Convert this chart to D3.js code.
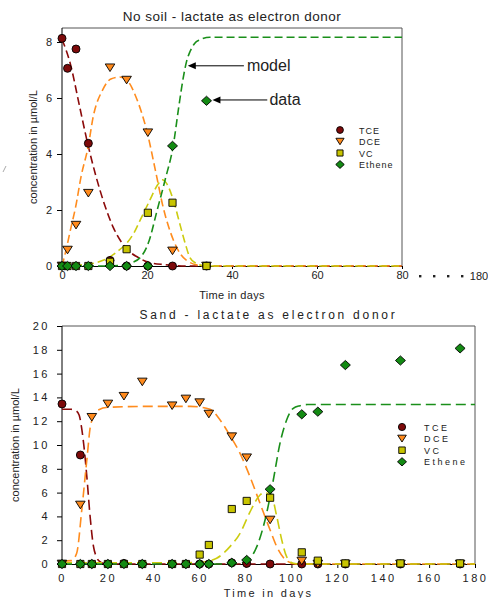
<!DOCTYPE html>
<html>
<head>
<meta charset="utf-8">
<script src="https://cdn.jsdelivr.net/npm/d3@7"></script>
<style>
  body { margin: 0; background: #fff; }
  text { font-family: "Liberation Sans", Arial, sans-serif; fill: #222; }
</style>
</head>
<body>
<script>
// ---- data: species ----
const species = ["TCE", "DCE", "VC", "Ethene"];

// ---- panel 1: no soil ----
const days1 = [0, 1.3, 3.3, 6.2, 11.3, 15.2, 20.2, 26, 34];
const tce1 = [8.13, 7.06, 7.75, 4.38, 0.2, 0, 0, 0, 0];
const dce1 = [0, 0.57, 1.46, 2.6, 7.08, 6.64, 4.76, 0.54, 0];
const vc1 = [0, 0, 0, 0, 0.15, 0.6, 1.9, 2.26, 0];
const eth1 = [0, 0, 0, 0, 0, 0, 0, 4.29, 5.9];

// model curves, [day, conc]
const tceModel1 = [[0, 8.1], [2, 7.2], [4, 5.8], [6, 4.4], [8, 3.2], [10, 2.2], [12, 1.4], [14, 0.85],
  [16, 0.5], [18, 0.3], [20, 0.15], [24, 0.05], [30, 0], [80, 0]];
const dceModel1 = [[0, 0], [1, 0.6], [2, 1.3], [3.2, 2.1], [4.5, 3.2], [6.2, 4.3], [7.3, 5.3], [9.6, 6.3],
  [11.5, 6.68], [13.6, 6.75], [15.5, 6.6], [17.5, 6.0], [20, 4.8], [22, 3.4], [23.8, 2.1], [26.2, 0.93],
  [28, 0.4], [29.3, 0.2], [32.5, 0.02], [35, 0], [80, 0]];
const vcModel1 = [[0, 0], [4, 0.03], [8, 0.12], [11, 0.3], [13, 0.52], [15.2, 0.81], [17, 1.2], [18.4, 1.64],
  [20.7, 2.36], [22.5, 2.9], [23.6, 3.08], [24.6, 2.95], [26.2, 2.35], [27.8, 1.46], [29, 0.8],
  [30.1, 0.3], [31.5, 0.1], [33, 0.02], [35, 0], [80, 0]];
const ethModel1 = [[0, 0], [10, 0], [14, 0.03], [16, 0.1], [18.4, 0.3], [20.5, 0.9], [22.3, 1.94],
  [24.3, 3.1], [26.2, 4.32], [27.4, 5.6], [28.5, 6.7], [29.3, 7.3], [30.1, 7.65], [31.2, 7.95],
  [32.5, 8.08], [34.8, 8.17], [80, 8.17]];

// ---- panel 2: sand ----
const days2 = [0, 8, 13, 20, 27, 35, 48, 54, 60, 64, 74, 80.5, 90.7, 104.5, 111.5, 123.5, 147.5, 173.5];
const tce2 = [13.45, 9.16, 0, 0, 0.05, 0, 0, 0, 0, 0, 0.1, 0.05, 0, 0, 0, 0, 0, 0];
const dce2 = [0, 4.96, 12.33, 13.45, 14.1, 15.3, 13.3, 13.87, 13.56, 12.6, 10.7, 8.93, 3.7, 0.25, 0, 0, 0, 0];
const vc2 = [0, 0, 0, 0, 0, 0, 0, 0, 0.79, 1.6, 4.62, 5.3, 5.57, 0.98, 0.28, 0.05, 0.05, 0.05];
const eth2 = [0, 0, 0, 0, 0, 0, 0, 0, 0, 0, 0.1, 0.34, 6.28, 12.58, 12.8, 16.72, 17.1, 18.12];

const tceModel2 = [[0, 13.0], [4, 13.0], [6, 12.9], [7.5, 12.5], [8.5, 11.5], [9.5, 10], [10.8, 7.4],
  [12.2, 4.1], [13.7, 1.5], [15, 0.6], [16.5, 0.2], [18.5, 0.03], [22, 0], [180, 0]];
const dceModel2 = [[0, 0.25], [4, 0.28], [6.4, 0.9], [8.6, 4.5], [10.8, 8.7], [12.6, 11.8], [15.8, 12.94],
  [20.2, 13.17], [40, 13.25], [56, 13.25], [64.5, 13.0], [68.9, 12.1], [73.2, 10.8], [77.6, 9.3], [82, 7.3],
  [86.3, 5.1], [90.7, 2.86], [94.3, 1.18], [97.9, 0.28], [102, 0], [180, 0]];
const vcModel2 = [[0, 0.1], [50, 0.1], [60, 0.15], [64, 0.25], [67.4, 0.48], [73.2, 1.46], [77.6, 2.58],
  [82, 4.4], [86.3, 5.8], [88.5, 6.0], [91.4, 5.67], [93.6, 4.0], [95.8, 2.0], [97.9, 0.62], [100.8, 0.06],
  [104, 0], [180, 0]];
const ethModel2 = [[0, 0], [70, 0], [77.6, 0.06], [81.2, 0.34], [84.9, 1.46], [88.5, 3.7], [92.1, 7.06],
  [95, 10.14], [97.9, 12.1], [100.8, 13.08], [103.7, 13.3], [107, 13.4], [180, 13.4]];

// ---- tick values ----
const xTicks1 = [0, 20, 40, 60, 80];
const yTicks1 = [0, 2, 4, 6, 8];
const xTicks2 = [0, 20, 40, 60, 80, 100, 120, 140, 160, 180];
const yTicks2 = [0, 2, 4, 6, 8, 10, 12, 14, 16, 18, 20];

// ---- styles ----
const fills = ["#7d0a0a", "#ff8a1c", "#c8c400", "#138a13"];
const lineColors = ["#8b0a0a", "#ff8c1e", "#cccc10", "#1a8f1a"];
const shapes = ["circle", "tri", "square", "diamond"];

const svg = d3.select("body").append("svg")
    .attr("width", 488).attr("height", 598);

function markerPath(shape, k) {
    if (shape === "circle") {
        const r = 4 * k;
        return `M${-r},0A${r},${r} 0 1,0 ${r},0A${r},${r} 0 1,0 ${-r},0Z`;
    }
    if (shape === "tri") {
        const w = 4.8 * k, h = 3.8 * k;
        return `M${-w},${-h}L${w},${-h}L0,${h}Z`;
    }
    if (shape === "square") {
        const a = 3.6 * k;
        return `M${-a},${-a}H${a}V${a}H${-a}Z`;
    }
    const w = 5 * k, h = 4.6 * k;
    return `M0,${-h}L${w},0L0,${h}L${-w},0Z`;
}

function drawPanel(p) {
    const g = svg.append("g");
    const x = d3.scaleLinear().domain(p.xDomain).range([62, p.right]);
    const y = d3.scaleLinear().domain(p.yDomain).range([p.bottom, p.top]);

    // frame (top / right)
    g.append("path")
        .attr("d", `M62,${p.top}H${p.right}V${p.bottom}`)
        .attr("fill", "none").attr("stroke", "#555").attr("stroke-width", 1);

    const xa = g.append("g").attr("transform", `translate(0,${p.bottom})`)
        .call(d3.axisBottom(x).tickValues(p.xTicks).tickSizeOuter(0)
            .tickSize(p.xTickSize).tickPadding(p.xPad));
    const ya = g.append("g").attr("transform", "translate(62,0)")
        .call(d3.axisLeft(y).tickValues(p.yTicks).tickSizeOuter(0)
            .tickSize(5).tickPadding(p.yPad));
    [xa, ya].forEach(a => {
        a.select(".domain").attr("stroke", "#000");
        a.selectAll(".tick line").attr("stroke", "#000");
        a.selectAll(".tick text")
            .attr("font-family", "Liberation Sans, Arial, sans-serif")
            .attr("font-size", 11).attr("fill", "#222")
            .style("letter-spacing", p.tickSpacing + "px");
    });
    ya.select(".domain").attr("d", `M0,${p.bottom}V${p.top}`);

    // model curves
    const line = d3.line().x(d => x(d[0])).y(d => y(d[1])).curve(d3.curveMonotoneX);
    p.models.forEach((m, i) => {
        g.append("path").datum(m)
            .attr("d", line)
            .attr("fill", "none")
            .attr("stroke", lineColors[i])
            .attr("stroke-width", 1.6)
            .attr("stroke-dasharray", p.dash);
    });

    // data markers
    p.series.forEach((vals, i) => {
        g.append("g").selectAll("path")
            .data(vals.map((v, j) => [p.days[j], v]))
            .join("path")
            .attr("transform", d => `translate(${x(d[0])},${y(d[1])})`)
            .attr("d", markerPath(shapes[i], 1))
            .attr("fill", fills[i])
            .attr("stroke", "#000")
            .attr("stroke-width", 0.9);
    });

    // legend
    const lg = g.append("g");
    species.forEach((s, i) => {
        const ly = p.legY + i * p.legStep;
        lg.append("path")
            .attr("transform", `translate(${p.legX},${ly})`)
            .attr("d", markerPath(shapes[i], p.legK))
            .attr("fill", fills[i]).attr("stroke", "#000").attr("stroke-width", 0.9);
        lg.append("text")
            .attr("x", p.legX + p.legGap).attr("y", ly + 3.5)
            .attr("font-size", 9)
            .style("letter-spacing", p.legSpacing + "px")
            .text(s);
    });

    // titles
    g.append("text")
        .attr("x", (62 + p.right) / 2).attr("y", p.titleY)
        .attr("text-anchor", "middle").attr("font-size", p.titleSize)
        .style("letter-spacing", p.titleSpacing + "px")
        .text(p.title);
    g.append("text")
        .attr("x", (62 + p.right) / 2).attr("y", p.xLabelY)
        .attr("text-anchor", "middle").attr("font-size", 11)
        .style("letter-spacing", p.xLabelSpacing + "px")
        .text("Time in days");
    g.append("text")
        .attr("transform", `translate(${p.yLabelX},${(p.top + p.bottom) / 2}) rotate(-90)`)
        .attr("text-anchor", "middle").attr("font-size", 11)
        .text("concentration in µmol/L");

    return { g, x, y };
}

const p1 = drawPanel({
    xDomain: [0, 80], yDomain: [0, 8.5], right: 402, top: 28, bottom: 266,
    xTicks: xTicks1, yTicks: yTicks1, xTickSize: 3, xPad: 2, yPad: 5, tickSpacing: 0,
    days: days1, series: [tce1, dce1, vc1, eth1],
    models: [tceModel1, dceModel1, vcModel1, ethModel1], dash: "8,4",
    legX: 340, legY: 130, legStep: 11.5, legK: 0.85, legGap: 19, legSpacing: 1,
    title: "No soil - lactate as electron donor", titleY: 21, titleSize: 13.5, titleSpacing: 0.5,
    xLabelY: 299, xLabelSpacing: 0.3, yLabelX: 37
});

const p2 = drawPanel({
    xDomain: [0, 180], yDomain: [0, 20], right: 475, top: 326, bottom: 564,
    xTicks: xTicks2, yTicks: yTicks2, xTickSize: 4, xPad: 6, yPad: 7, tickSpacing: 2.5,
    days: days2, series: [tce2, dce2, vc2, eth2],
    models: [tceModel2, dceModel2, vcModel2, ethModel2], dash: "10,5",
    legX: 402, legY: 427, legStep: 11.6, legK: 0.9, legGap: 22, legSpacing: 2.5,
    title: "Sand - lactate as electron donor", titleY: 319, titleSize: 12, titleSpacing: 2.75,
    xLabelY: 597, xLabelSpacing: 2.3, yLabelX: 19
});

// broken axis hint after 80 in the top panel
const breakDots = [420, 434, 448, 462];
p1.g.selectAll("rect.brk").data(breakDots).join("rect")
    .attr("x", d => d - 1).attr("y", 275)
    .attr("width", 2.4).attr("height", 2.4).attr("fill", "#222");
p1.g.append("text").attr("x", 479).attr("y", 280)
    .attr("text-anchor", "middle").attr("font-size", 11).text("180");

// annotations: model / data arrows
function arrow(g, x1, x2, yy) {
    g.append("line").attr("x1", x1).attr("x2", x2 + 7).attr("y1", yy).attr("y2", yy)
        .attr("stroke", "#000").attr("stroke-width", 1);
    g.append("path").attr("d", `M${x2},${yy}l8,-3.5v7Z`).attr("fill", "#000");
}
const ax = p1.x, ay = p1.y;
arrow(p1.g, ax(42.8), ax(29.6), ay(7.15));
p1.g.append("text").attr("x", ax(43.5)).attr("y", ay(7.15) + 5.5)
    .attr("font-size", 16).attr("fill", "#111").text("model");
arrow(p1.g, ax(48.3), ax(35.4), ay(5.93));
p1.g.append("text").attr("x", ax(48.8)).attr("y", ay(5.93) + 5.5)
    .attr("font-size", 16).attr("fill", "#111").text("data");

// faint stray mark at far left
svg.append("line").attr("x1", 3).attr("y1", 172).attr("x2", 6).attr("y2", 166)
    .attr("stroke", "#aaa").attr("stroke-width", 1);
</script>
</body>
</html>
